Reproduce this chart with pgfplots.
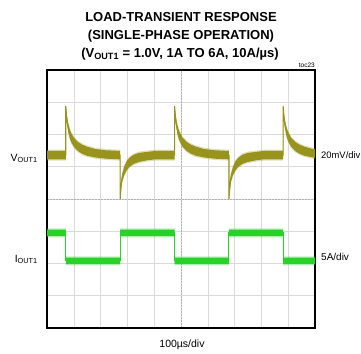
\documentclass[border=0pt]{standalone}
\usepackage{pgfplots}
\pgfplotsset{compat=1.18}
\usepackage{pgfplotstable}
\usepgfplotslibrary{fillbetween}
\usepackage{fontspec}
\setmainfont{Liberation Sans}
\definecolor{vcol}{RGB}{152,147,28}
\definecolor{icol}{RGB}{40,210,40}
\definecolor{gridc}{RGB}{218,218,218}

\pgfplotstableread{
x c h
0.00 5.36 0.13
0.70 5.36 0.13
0.70 6.88 0
0.73 6.56 0.09
0.76 6.36 0.11
0.80 6.18 0.13
0.85 6.02 0.14
0.90 5.91 0.14
1.00 5.76 0.14
1.15 5.63 0.14
1.30 5.55 0.14
1.50 5.48 0.14
1.80 5.42 0.13
2.20 5.38 0.13
2.73 5.36 0.13
2.73 4.00 0
2.76 4.36 0.09
2.80 4.64 0.11
2.88 4.87 0.13
2.98 5.04 0.14
3.08 5.14 0.14
3.23 5.23 0.14
3.43 5.29 0.14
3.73 5.33 0.13
4.03 5.36 0.13
4.76 5.36 0.13
4.76 6.88 0
4.79 6.56 0.09
4.82 6.36 0.11
4.86 6.18 0.13
4.91 6.02 0.14
4.96 5.91 0.14
5.06 5.76 0.14
5.21 5.63 0.14
5.36 5.55 0.14
5.56 5.48 0.14
5.86 5.42 0.13
6.26 5.38 0.13
6.79 5.36 0.13
6.79 4.00 0
6.82 4.36 0.09
6.86 4.64 0.11
6.94 4.87 0.13
7.04 5.04 0.14
7.14 5.14 0.14
7.29 5.23 0.14
7.49 5.29 0.14
7.79 5.33 0.13
8.09 5.36 0.13
8.81 5.36 0.13
8.81 6.88 0
8.84 6.56 0.09
8.87 6.36 0.11
8.91 6.18 0.13
8.96 6.02 0.14
9.01 5.91 0.14
9.11 5.76 0.14
9.26 5.63 0.14
9.41 5.55 0.14
9.61 5.48 0.14
9.91 5.42 0.13
10.00 5.41 0.13
}\vdata

\pgfplotstableread{
x c h
0.00 2.95 0.10
0.70 2.95 0.10
0.70 2.08 0.10
2.73 2.08 0.10
2.73 2.95 0.10
4.76 2.95 0.10
4.76 2.08 0.10
6.79 2.08 0.10
6.79 2.95 0.10
8.81 2.95 0.10
8.81 2.08 0.10
10.00 2.08 0.10
}\idata

\begin{document}
\begin{tikzpicture}[x=1bp,y=1bp]
\begin{axis}[
  at={(47bp,26bp)}, anchor=south west,
  scale only axis, width=268bp, height=258bp,
  xmin=0, xmax=10, ymin=0, ymax=8,
  xtick={0,...,10}, ytick={0,...,8},
  xticklabels={}, yticklabels={},
  major tick length=0pt,
  grid=major,
  grid style={gridc, line width=0.6bp},
  extra x ticks={5}, extra y ticks={4},
  extra x tick labels={}, extra y tick labels={},
  extra tick style={grid style={black!30, line width=0.6bp, dash pattern=on 1.5bp off 1.5bp}},
  axis line style={black, line width=1.8bp},
  clip=true,
]
% voltage band
\addplot[draw=none, name path=vuo, forget plot] table[x=x, y expr=\thisrow{c}+\thisrow{h}+0.04] {\vdata};
\addplot[draw=none, name path=vlo, forget plot] table[x=x, y expr=\thisrow{c}-\thisrow{h}-0.04] {\vdata};
\addplot[fill=vcol, fill opacity=0.3, draw=none] fill between[of=vuo and vlo];
\addplot[draw=none, name path=vu, forget plot] table[x=x, y expr=\thisrow{c}+\thisrow{h}] {\vdata};
\addplot[draw=none, name path=vl, forget plot] table[x=x, y expr=\thisrow{c}-\thisrow{h}] {\vdata};
\addplot[fill=vcol, draw=none] fill between[of=vu and vl];
\addplot[vcol, line width=1.1bp] table[x=x, y=c] {\vdata};
% current band
\addplot[draw=none, name path=iuo, forget plot] table[x=x, y expr=\thisrow{c}+\thisrow{h}+0.04] {\idata};
\addplot[draw=none, name path=ilo, forget plot] table[x=x, y expr=\thisrow{c}-\thisrow{h}-0.04] {\idata};
\addplot[fill=icol, fill opacity=0.3, draw=none] fill between[of=iuo and ilo];
\addplot[draw=none, name path=iu, forget plot] table[x=x, y expr=\thisrow{c}+\thisrow{h}] {\idata};
\addplot[draw=none, name path=il, forget plot] table[x=x, y expr=\thisrow{c}-\thisrow{h}] {\idata};
\addplot[fill=icol, draw=none] fill between[of=iu and il];
\addplot[icol, line width=1.0bp] table[x=x, y=c] {\idata};
\end{axis}
% titles
\node[anchor=base, font=\bfseries\fontsize{13bp}{15bp}\selectfont] at (181,333) {LOAD-TRANSIENT RESPONSE};
\node[anchor=base, font=\bfseries\fontsize{13bp}{15bp}\selectfont] at (181,315) {(SINGLE-PHASE OPERATION)};
\node[anchor=base, font=\bfseries\fontsize{13bp}{15bp}\selectfont] at (180,297) {(V\textsubscript{OUT1} = 1.0V, 1A TO 6A, 10A/µs)};
\node[anchor=base east, font=\fontsize{6.5bp}{8bp}\selectfont, inner sep=0pt] at (315,287) {toc23};
% side labels
\node[anchor=base east, font=\fontsize{10.5bp}{12bp}\selectfont, inner sep=0pt] at (38,193) {V\textsubscript{OUT1}};
\node[anchor=base east, font=\fontsize{10.5bp}{12bp}\selectfont, inner sep=0pt] at (38,92) {I\textsubscript{OUT1}};
\node[anchor=base west, font=\fontsize{9.4bp}{11bp}\selectfont, inner sep=0pt] at (321,196) {20mV/div};
\node[anchor=base west, font=\fontsize{10bp}{12bp}\selectfont, inner sep=0pt] at (321,94) {5A/div};
\node[anchor=base, font=\fontsize{10.5bp}{12bp}\selectfont, inner sep=0pt] at (182,7) {100µs/div};
\pgfresetboundingbox
\useasboundingbox (0,0) rectangle (361,354);
\end{tikzpicture}
\end{document}
